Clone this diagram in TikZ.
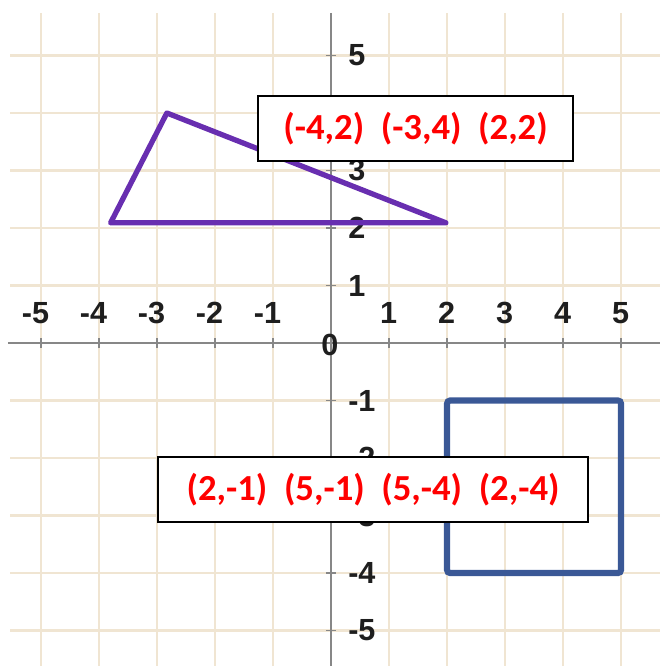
\documentclass[tikz,border=0pt]{standalone}
\usepackage{fontspec}
\newfontfamily\axisfont{Liberation Sans}
\newfontfamily\boxfont{Carlito}
\usepackage{tikz}
\usetikzlibrary{positioning, calc}
\definecolor{gridbeige}{RGB}{240,229,210}
\definecolor{axisgray}{RGB}{135,135,135}
\definecolor{labgray}{RGB}{30,30,30}
\definecolor{tripurple}{RGB}{104,46,176}
\definecolor{quadblue}{RGB}{58,88,150}

\begin{document}
\begin{tikzpicture}[
        x=1cm, y=0.9914cm,
        gridline/.style={draw=gridbeige, line width=1.3pt},
        axisline/.style={draw=axisgray, line width=0.9pt},
        axtick/.style={draw=axisgray, line width=0.6pt},
        numfont/.style={inner sep=0pt, text=labgray, font=\axisfont\bfseries\fontsize{15}{18}\selectfont},
        xlab/.style={numfont, anchor=east},
        ylab/.style={numfont, anchor=west},
        tri/.style={draw=tripurple, line width=2.6pt, line join=round},
        quad/.style={draw=quadblue, line width=3pt, rounded corners=1.5pt},
        coordbox/.style={draw=black, line width=1.2pt, fill=white, inner sep=0pt, minimum height=31.9pt,
            text=red, font=\boxfont\bfseries\fontsize{18}{22}\selectfont}
    ]
        \useasboundingbox (-5.707,-5.617) rectangle (5.672,5.965);
        %=================== мрежа ===================
        \foreach \k in {-5,...,5} {
            \draw[gridline] (-5.53,\k) -- (5.672,\k);
            \draw[gridline] (\k,5.74) -- (\k,-5.617);
        }
        %=================== осе ===================
        \coordinate (xl) at (-5.57,0);
        \coordinate (xr) at (5.672,0);
        \coordinate (yt) at (0,5.74);
        \coordinate (yb) at (0,-5.617);
        \draw[axisline] (xl) -- (xr);
        \draw[axisline] (yt) -- (yb);
        \foreach \k in {-5,...,-1,1,2,3,4,5} {
            \draw[axtick] (\k,-0.09) -- (\k,0.09);
            \draw[axtick] (-0.09,\k) -- (0.09,\k);
            \node[xlab] (xl\k) at (\k+0.147,0.52) {\k};
            \node[ylab] (yl\k) at (0.29,\k) {\k};
        }
        \node[numfont] (orig) at (-0.02,-0.03) {0};

        %=================== троугао ===================
        \coordinate (tA) at (-3.80,2.09);
        \coordinate (tB) at (-2.83,4.00);
        \coordinate (tC) at (1.98,2.09);
        \draw[tri] (tA) -- (tB) -- (tC) -- cycle;

        %=================== квадрат ===================
        \coordinate (qA) at (2,-1);
        \coordinate (qB) at (5,-1);
        \coordinate (qC) at (5,-4);
        \coordinate (qD) at (2,-4);
        \draw[quad] (qA) -- (qB) -- (qC) -- (qD) -- cycle;

        %=================== координате ===================
        \node[coordbox, minimum width=154.5pt] (triBox) at (1.457,3.73)
            {(-4,2)\ \ (-3,4)\ \ (2,2)};
        \node[coordbox, minimum width=211pt] (quadBox) at (0.724,-2.548)
            {(2,-1)\ \ (5,-1)\ \ (5,-4)\ \ (2,-4)};
    \end{tikzpicture}
\end{document}
